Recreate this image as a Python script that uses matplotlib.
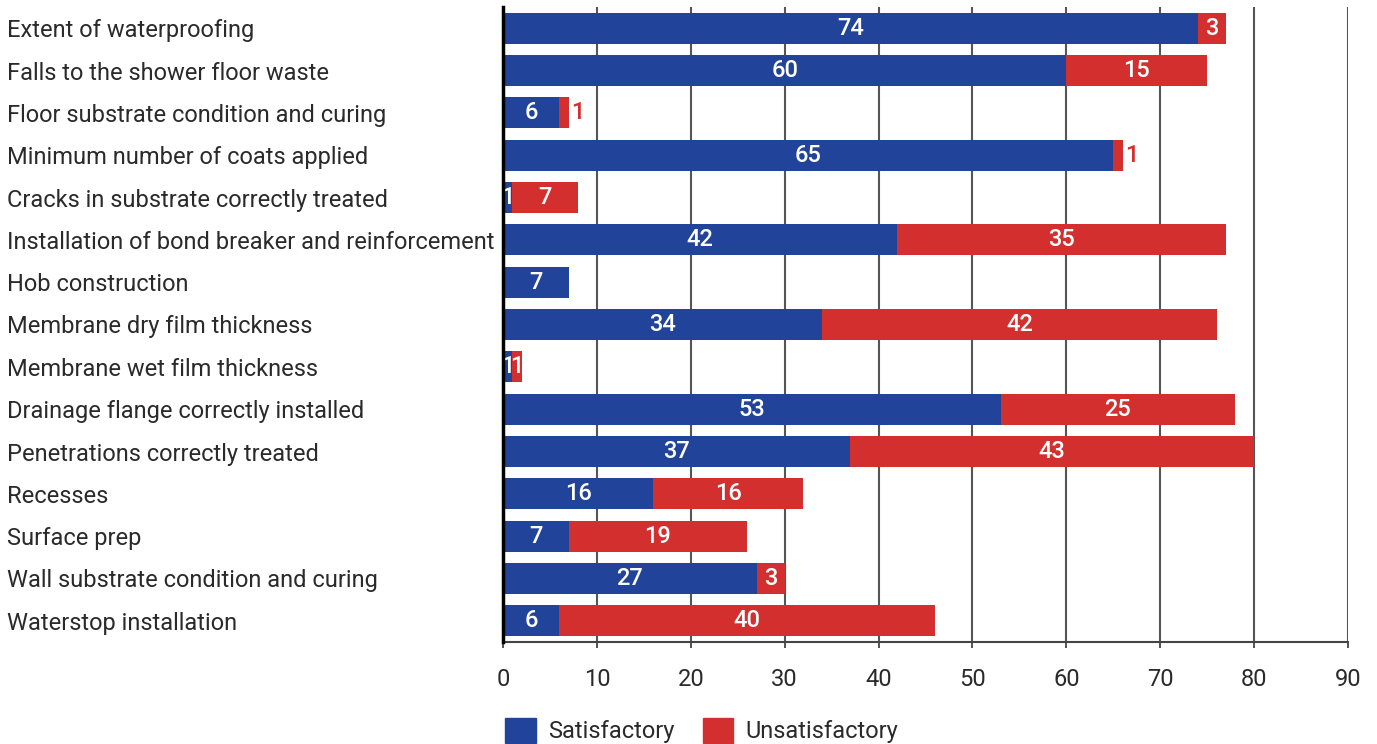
import matplotlib
matplotlib.use("Agg")
import matplotlib.pyplot as plt
from matplotlib.patches import Patch

plt.rcParams['font.family'] = ['Roboto', 'DejaVu Sans']

items = [
    "Extent of waterproofing",
    "Falls to the shower floor waste",
    "Floor substrate condition and curing",
    "Minimum number of coats applied",
    "Cracks in substrate correctly treated",
    "Installation of bond breaker and reinforcement",
    "Hob construction",
    "Membrane dry film thickness",
    "Membrane wet film thickness",
    "Drainage flange correctly installed",
    "Penetrations correctly treated",
    "Recesses",
    "Surface prep",
    "Wall substrate condition and curing",
    "Waterstop installation",
]
satisfactory = [74, 60, 6, 65, 1, 42, 7, 34, 1, 53, 37, 16, 7, 27, 6]
unsatisfactory = [3, 15, 1, 1, 7, 35, 0, 42, 1, 25, 43, 16, 19, 3, 40]
# rows where the small red label sits outside the bar
outside = [2, 3]

blue = "#21449A"
red = "#D32F2F"
txt = "#2a2a2a"
fs = 17

fig = plt.figure(figsize=(13.77, 7.44), dpi=100)
ax = fig.add_axes([503 / 1377, 1 - 642 / 744, (1348 - 503) / 1377, 635 / 744])

pos = list(range(len(items)))
h = 0.73
ax.barh(pos, satisfactory, height=h, color=blue, zorder=3)
ax.barh(pos, unsatisfactory, left=satisfactory, height=h, color=red, zorder=3)

for i in pos:
    s = satisfactory[i]
    u = unsatisfactory[i]
    if s > 0:
        ax.text(s / 2, i, str(s), ha="center", va="center", color="white",
                fontsize=fs, fontweight="medium", zorder=4)
    if u > 0:
        if i in outside:
            ax.text(s + u + 0.3, i, str(u), ha="left", va="center", color=red,
                    fontsize=fs, fontweight="medium", zorder=4)
        else:
            ax.text(s + u / 2, i, str(u), ha="center", va="center", color="white",
                    fontsize=fs, fontweight="medium", zorder=4)

ax.set_xlim(0, 90)
ax.set_ylim(len(items) - 0.5, -0.5)
ax.set_xticks(range(0, 91, 10))
ax.set_yticks(pos)
ax.set_yticklabels(items, ha="left", fontsize=fs, color=txt)
ax.tick_params(axis="y", length=0, pad=496 * 72 / 100)
ax.tick_params(axis="x", length=4, width=1.3, color="#444444", pad=15,
               labelsize=fs, labelcolor=txt)

ax.grid(axis="x", color="#555555", linewidth=1.5, zorder=1)
for side in ["top", "right"]:
    ax.spines[side].set_visible(False)
ax.spines["left"].set_linewidth(2.5)
ax.spines["left"].set_color("black")
ax.spines["left"].set_zorder(5)
ax.spines["bottom"].set_linewidth(1.5)
ax.spines["bottom"].set_color("#444444")

handles = [Patch(color=blue, label="Satisfactory"), Patch(color=red, label="Unsatisfactory")]
fig.legend(handles=handles, loc="center left", bbox_to_anchor=(496 / 1377, 0.018),
           ncol=2, frameon=False, fontsize=fs,
           handlelength=1.3, handleheight=1.3,
           handletextpad=0.5, columnspacing=1.2, labelcolor=txt, borderaxespad=0)

fig.savefig("out.png", dpi=100)
